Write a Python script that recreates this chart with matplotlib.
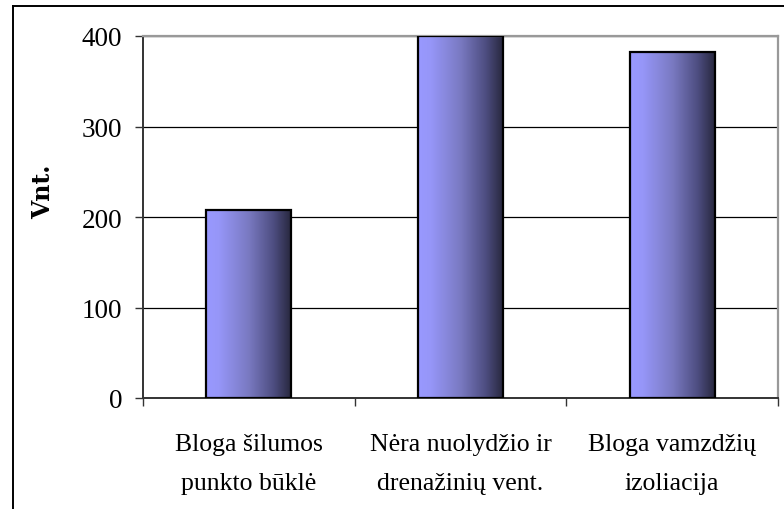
import numpy as np
import matplotlib.pyplot as plt
from matplotlib.colors import LinearSegmentedColormap
from matplotlib.lines import Line2D

# duomenys
categories = ["Bloga šilumos\npunkto būklė",
              "Nėra nuolydžio ir\ndrenažinių vent.",
              "Bloga vamzdžių\nizoliacija"]
values = [208, 400, 382]
y_ticks = [0, 100, 200, 300, 400]

grad = LinearSegmentedColormap.from_list(
    "bar_grad",
    [(0.0, "#9999ff"), (0.15, "#9696f8"), (0.5, "#7a7ac2"),
     (0.8, "#4d4d80"), (1.0, "#28283f")])

fig = plt.figure(figsize=(7.84, 5.10), dpi=100)
ax = fig.add_axes([143 / 784, 111 / 510, 635 / 784, 362 / 510])

x = np.arange(len(categories))
bars = ax.bar(x, values, width=0.4, facecolor="none", edgecolor="black",
              linewidth=1.6, zorder=3)

# gradientas kiekvienam stulpeliui
g = np.linspace(0, 1, 256).reshape(1, -1)
for b in bars:
    bx, by = b.get_x(), b.get_y()
    bw, bh = b.get_width(), b.get_height()
    im = ax.imshow(g, cmap=grad, aspect="auto", zorder=2,
                   extent=(bx, bx + bw, by, by + bh), interpolation="bilinear")
    im.set_clip_path(b)

ax.set_xlim(-0.5, len(categories) - 0.5)
ax.set_ylim(0, 400)

ax.set_yticks(y_ticks)
ax.set_yticklabels([str(t) for t in y_ticks], family="Liberation Serif", fontsize=19.5)
ax.yaxis.grid(True, color="black", linewidth=0.9)
ax.set_axisbelow(True)

ax.set_xticks(np.arange(-0.5, len(categories)), labels=[])
ax.set_xticks(x, labels=categories, minor=True)
for lbl in ax.get_xticklabels(minor=True):
    lbl.set_family("Liberation Serif")
    lbl.set_fontsize(18.5)
    lbl.set_linespacing(2.0)
ax.tick_params(axis="x", which="minor", length=0, pad=25)
ax.tick_params(axis="both", which="major", length=6, width=1.0, direction="out",
               color="#333333", pad=9)

ax.set_ylabel("Vnt.", family="DejaVu Serif", fontweight="bold", fontsize=17)
ax.yaxis.set_label_coords(-0.138, 0.572)

for s in ("left", "bottom"):
    ax.spines[s].set_color("#333333")
    ax.spines[s].set_linewidth(1.4)
for s in ("top", "right"):
    ax.spines[s].set_color("#999999")
    ax.spines[s].set_linewidth(1.6)

# išorinis rėmelis
fig.add_artist(Line2D([13 / 784, 13 / 784], [0, 1 - 7 / 510],
                      transform=fig.transFigure, color="black", linewidth=1.4))
fig.add_artist(Line2D([13 / 784, 1], [1 - 7 / 510, 1 - 7 / 510],
                      transform=fig.transFigure, color="black", linewidth=1.4))

fig.savefig("out.png", dpi=100)
